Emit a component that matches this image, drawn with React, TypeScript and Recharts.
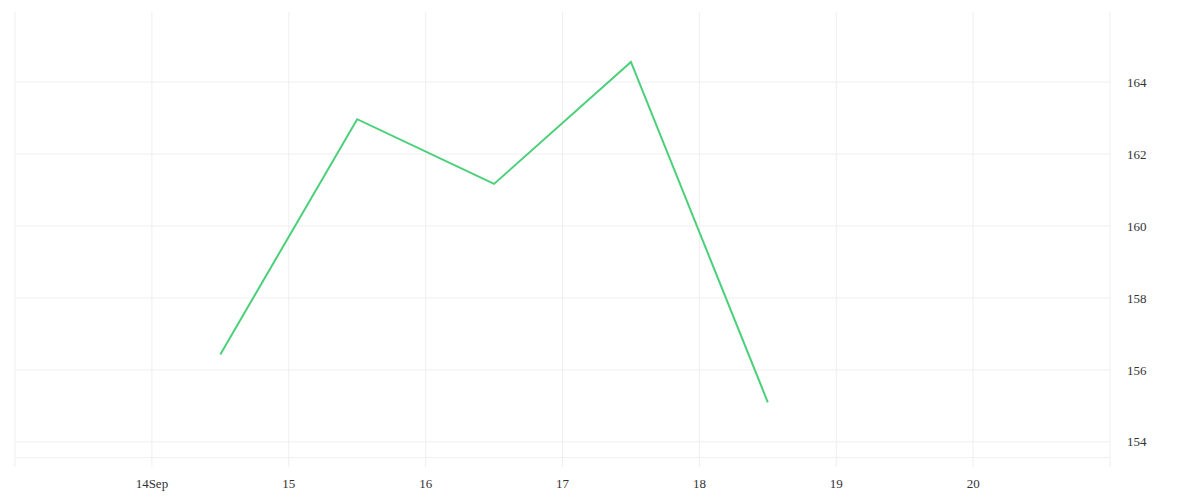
import React from "react";
import {
  LineChart,
  Line,
  CartesianGrid,
  XAxis,
  YAxis,
  ReferenceLine,
} from "recharts";

// days of September (noon of each day)
const days = [14.5, 15.5, 16.5, 17.5, 18.5];
const prices = [156.43, 162.97, 161.17, 164.56, 155.1];

const xTicks = [13, 14, 15, 16, 17, 18, 19, 20, 21];
const yTicks = [154, 156, 158, 160, 162, 164];

const data = days.map((d, i) => ({ day: d, price: prices[i] }));

const formatDay = (v: number) => {
  if (v === 13 || v === 21) return "";
  return v === 14 ? "14Sep" : String(v);
};

export default function App() {
  return (
    <LineChart
      width={1184}
      height={492}
      data={data}
      margin={{ top: 4, right: 22, bottom: 3, left: 7 }}
    >
      <CartesianGrid
        stroke="#efefef"
        strokeWidth={1}
        horizontalValues={yTicks}
        verticalValues={xTicks}
      />
      <ReferenceLine y={153.56} stroke="#efefef" />
      <XAxis
        dataKey="day"
        type="number"
        domain={[13, 21]}
        ticks={xTicks}
        tickFormatter={formatDay}
        axisLine={false}
        tickLine={false}
        tickMargin={6}
        height={30}
        tick={{ fill: "#333", fontSize: 13 }}
      />
      <YAxis
        orientation="right"
        type="number"
        domain={[153.3, 165.95]}
        ticks={yTicks}
        axisLine={false}
        tickLine={false}
        tickMargin={11}
        width={60}
        tick={{ fill: "#333", fontSize: 13, textAnchor: "start" }}
      />
      <Line
        type="linear"
        dataKey="price"
        stroke="#4bd07a"
        strokeWidth={2}
        dot={false}
        isAnimationActive={false}
      />
    </LineChart>
  );
}
